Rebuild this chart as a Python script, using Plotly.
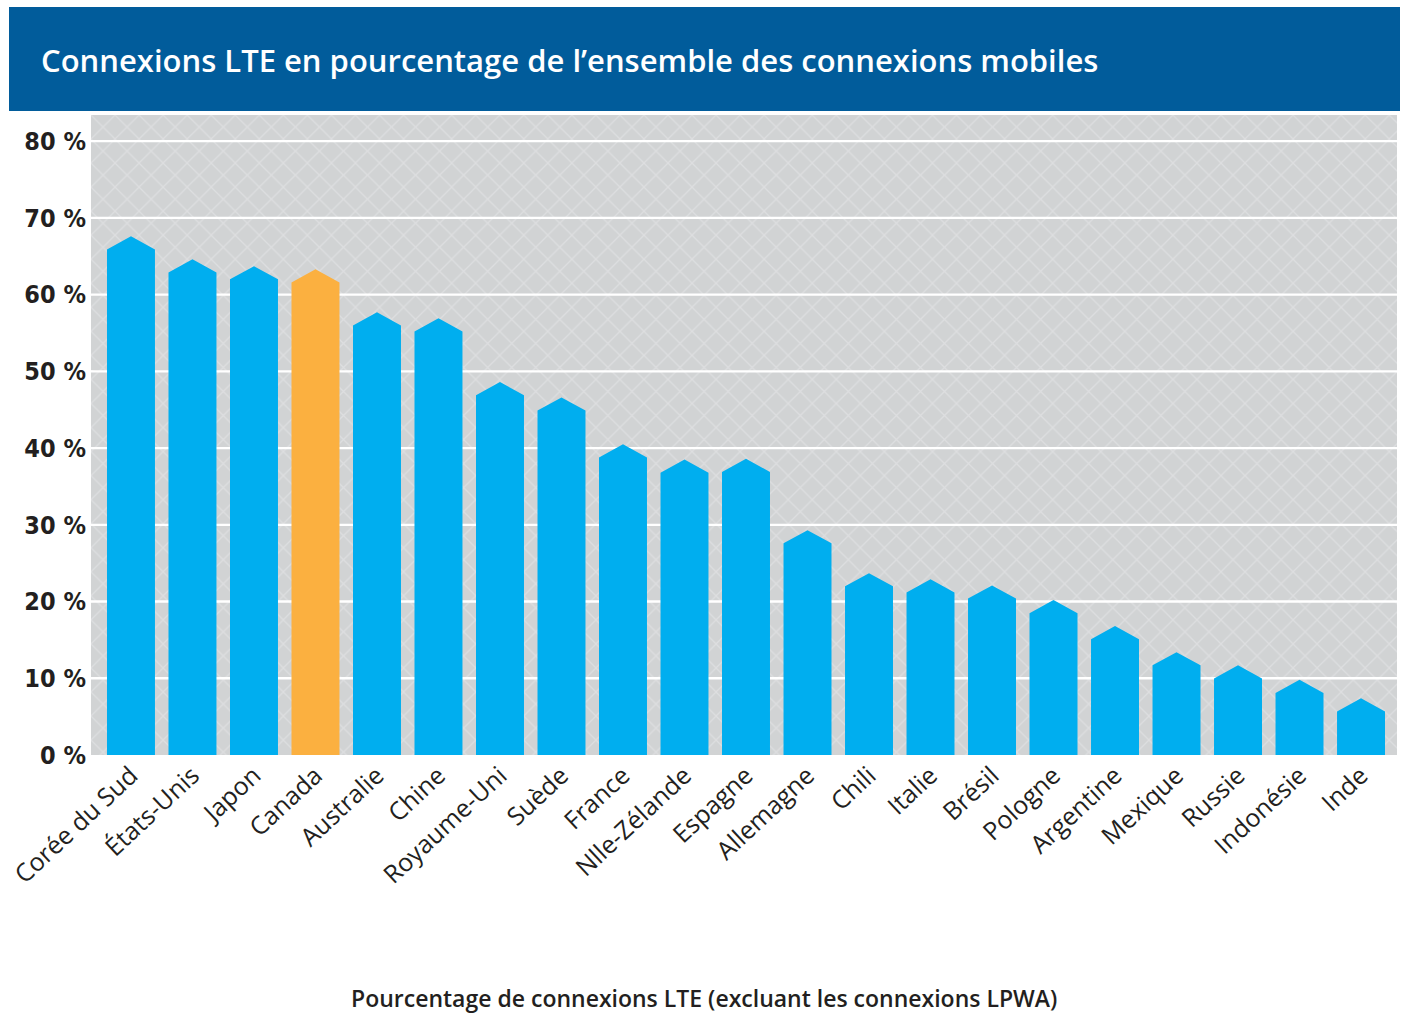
import plotly.graph_objects as go

categories = ["Corée du Sud", "États-Unis", "Japon", "Canada", "Australie", "Chine",
              "Royaume-Uni", "Suède", "France", "Nlle-Zélande", "Espagne", "Allemagne",
              "Chili", "Italie", "Brésil", "Pologne", "Argentine", "Mexique", "Russie",
              "Indonésie", "Inde"]
values = [67.6, 64.6, 63.7, 63.3, 57.7, 56.9, 48.6, 46.6, 40.5, 38.5, 38.6, 29.3,
          23.7, 22.9, 22.1, 20.2, 16.8, 13.4, 11.7, 9.8, 7.4]
highlight = "Canada"
y_tick_vals = [0, 10, 20, 30, 40, 50, 60, 70, 80]
y_tick_text = ["0 %", "10 %", "20 %", "30 %", "40 %", "50 %", "60 %", "70 %", "80 %"]
title_text = "Connexions LTE en pourcentage de l’ensemble des connexions mobiles"
x_title_text = "Pourcentage de connexions LTE (excluant les connexions LPWA)"

# style
BLUE = "#00AEEF"
ORANGE = "#FBB040"
HEADER = "#015C9B"
BG = "#D1D3D4"
TXT = "#231F20"
X0, X1 = -0.65, 20.585
Y0, Y1 = 0, 83.4
HW = 0.39      # half bar width (category units)
CAP = 1.72     # height of the pointed cap (value units)

fig = go.Figure()

# patterned background
fig.add_trace(go.Scatter(
    x=[X0, X1, X1, X0, X0], y=[Y0, Y0, Y1, Y1, Y0], mode="lines",
    fill="toself", fillcolor=BG, line=dict(width=0),
    fillpattern=dict(shape="x", fgcolor="#E9EAEB", bgcolor=BG, size=17, solidity=0.14),
    hoverinfo="skip", showlegend=False))

# gridlines
gx, gy = [], []
for v in y_tick_vals[1:]:
    gx += [X0, X1, None]
    gy += [v, v, None]
fig.add_trace(go.Scatter(x=gx, y=gy, mode="lines", line=dict(color="white", width=2.3),
                         hoverinfo="skip", showlegend=False))

# notches on left edge
nx, ny = [], []
for v in y_tick_vals[1:]:
    nx += [X0, X0 + 0.11, X0, X0, None]
    ny += [v - 0.09, v, v + 0.09, v - 0.09, None]
fig.add_trace(go.Scatter(x=nx, y=ny, mode="lines", fill="toself", fillcolor="white",
                         line=dict(width=0, color="white"), hoverinfo="skip", showlegend=False))


def polys(indices):
    px, py = [], []
    for i in indices:
        v = values[i]
        px += [i - HW, i - HW, i, i + HW, i + HW, i - HW, None]
        py += [0, v - CAP, v, v - CAP, 0, 0, None]
    return px, py


blue_idx = [i for i, c in enumerate(categories) if c != highlight]
hl_idx = [i for i, c in enumerate(categories) if c == highlight]
for idx, col in [(blue_idx, BLUE), (hl_idx, ORANGE)]:
    px, py = polys(idx)
    fig.add_trace(go.Scatter(x=px, y=py, mode="lines", fill="toself", fillcolor=col,
                             line=dict(width=0, color=col), hoverinfo="skip", showlegend=False))

fig.update_layout(
    width=1401, height=1013,
    margin=dict(l=91, r=4, t=115, b=258),
    paper_bgcolor="white", plot_bgcolor="white",
    showlegend=False,
    title=dict(text=title_text, x=41 / 1401, xanchor="left", xref="container",
               y=1 - 61 / 1013, yanchor="middle", yref="container",
               font=dict(family="Open Sans", size=31, color="white", weight=600)),
    xaxis=dict(range=[X0, X1], tickmode="array", tickvals=list(range(len(categories))),
               ticktext=categories, tickangle=-43, showgrid=False, zeroline=False,
               showline=False, ticks="",
               tickfont=dict(family="Open Sans", size=25, color=TXT)),
    yaxis=dict(range=[Y0, Y1], tickmode="array", tickvals=y_tick_vals, ticktext=y_tick_text,
               showgrid=False, zeroline=False, showline=False, ticks="",
               ticklabelstandoff=4,
               tickfont=dict(family="DejaVu Sans Condensed", size=25, color=TXT, weight="bold")),
    shapes=[dict(type="rect", xref="paper", yref="paper",
                 x0=(9 - 91) / 1306, x1=(1400 - 91) / 1306,
                 y0=(755 - 111) / 640, y1=(755 - 7) / 640,
                 fillcolor=HEADER, line=dict(width=0), layer="below")],
    annotations=[dict(text=x_title_text, xref="paper", yref="paper",
                      x=(704 - 91) / 1306, y=(755 - 998) / 640,
                      xanchor="center", yanchor="middle", showarrow=False,
                      font=dict(family="Open Sans", size=23, color=TXT, weight=600))],
)

fig.write_html("out.html", config={"displayModeBar": False},
               post_script="document.body.style.margin='0';")
